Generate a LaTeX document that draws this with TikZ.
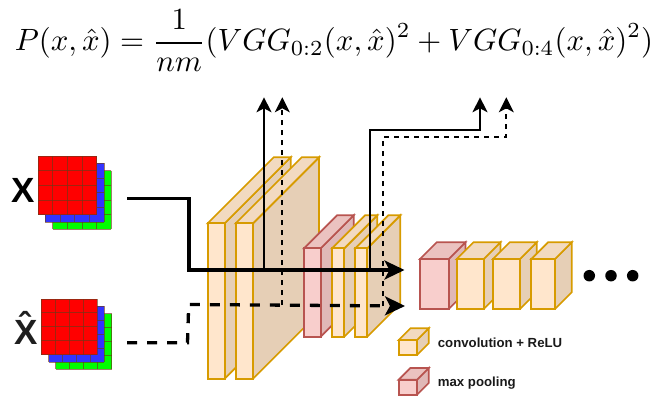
\documentclass[tikz,border=0pt]{standalone}
\usepackage{fontspec}
\usepackage{tikz}
\usetikzlibrary{arrows.meta}
\newfontfamily\labelfont{Liberation Sans}
\definecolor{convline}{HTML}{D79B00}
\definecolor{convfront}{HTML}{FFE6CC}
\definecolor{convtop}{HTML}{F2DAC0}
\definecolor{convside}{HTML}{E6CFB6}
\definecolor{poolline}{HTML}{B85450}
\definecolor{poolfront}{HTML}{F8CECC}
\definecolor{pooltop}{HTML}{EBC2C0}
\definecolor{poolside}{HTML}{E0B8B7}
\definecolor{chanblue}{HTML}{3333FF}
\definecolor{changreen}{HTML}{00FF00}
\definecolor{chanred}{HTML}{FF0000}
\definecolor{gridbrown}{HTML}{6B3A1A}

% kind, left, top, width, height, depth
\newcommand{\cuboid}[6]{
  \fill[#1side] (#2+#4,#3) -- ++(#6,-#6) -- ++(0,#5) -- ++(-#6,#6) -- cycle;
  \draw[draw=#1line, line width=1.7pt, line join=miter]
    (#2+#4,#3) -- ++(#6,-#6) -- ++(0,#5) -- ++(-#6,#6);
  \draw[draw=#1line, fill=#1top, line width=1.7pt]
    (#2,#3) -- ++(#6,-#6) -- ++(#4,0) -- ++(-#6,#6) -- cycle;
  \draw[draw=#1line, fill=#1front, line width=1.7pt] (#2,#3) rectangle ++(#4,#5);
}
% left, top, size of the red layer
\newcommand{\imagestack}[3]{
  \foreach \off/\chan in {14.6/changreen, 7.3/chanblue, 0/chanred}{
    \fill[\chan] (#1+\off,#2+\off) rectangle ++(#3,#3);
    \foreach \gi in {0,...,4}{
      \draw[gridrule] (#1+\off+\gi*#3/4,#2+\off) -- ++(0,#3);
      \draw[gridrule] (#1+\off,#2+\off+\gi*#3/4) -- ++(#3,0);
    }
  }
}

\begin{document}
\begin{tikzpicture}[
  x=1pt, y=-1pt,
  gridrule/.style={draw=gridbrown, opacity=0.65, line width=0.9pt},
  mainpath/.style={line width=3.3pt, -{Stealth[length=20pt, width=19pt, inset=5pt]}},
  mainhat/.style={mainpath, dash pattern=on 10pt off 10pt},
  tappath/.style={line width=1.9pt, -{Stealth[length=15pt, width=15pt, inset=4pt]}},
  taphat/.style={tappath, dash pattern=on 5pt off 5pt},
  imglbl/.style={font=\labelfont\bfseries\fontsize{35}{35}\selectfont, inner sep=0},
  lgd/.style={anchor=west, font=\labelfont\bfseries\fontsize{13.2}{15}\selectfont,
              text=black!90, inner sep=0},
  dot/.style={circle, fill=black, minimum size=11.5pt, inner sep=0}
]
\useasboundingbox (0,0) rectangle (654,396);

% ══ formula ════════════════════════════════════════════════════════════════
\node[scale=3.08, inner sep=0, anchor=base] (formula) at (334,50.7)
  {$\displaystyle P(x,\hat{x})=\frac{1}{nm}(VGG_{0:2}(x,\hat{x})^2+VGG_{0:4}(x,\hat{x})^2)$};

% ══ inputs ═════════════════════════════════════════════════════════════════
\imagestack{38}{156}{58.7}
\imagestack{41.3}{299}{55.7}
\node[imglbl] (inputx) at (22.8,190) {X};
\node[imglbl, text=black!88, anchor=base] (inputhat) at (26,344) {\^{X}};

% ══ first block ════════════════════════════════════════════════════════════
\cuboid{conv}{207.7}{223.3}{17}{155.4}{66}
\cuboid{conv}{235.7}{223.3}{17.3}{155.4}{66}
\cuboid{pool}{304}{248.3}{16.7}{88.4}{33}
\cuboid{conv}{332}{248.3}{12.3}{88.4}{33}
\cuboid{conv}{355.3}{248.3}{12}{88.4}{33}

% ══ second block ═══════════════════════════════════════════════════════════
\cuboid{pool}{420}{259}{28.7}{50}{16.7}
\cuboid{conv}{456.7}{259}{27}{50}{16.7}
\cuboid{conv}{493}{259}{27}{50}{16.7}
\cuboid{conv}{531.3}{259}{23.7}{50}{16.7}
\foreach \dx/\dname in {589.3/a, 611/b, 632.7/c}{
  \node[dot] (dot\dname) at (\dx,275.7) {};
}

% ══ connector ends ═════════════════════════════════════════════════════════
\coordinate (xstart) at (127,198.3);
\coordinate (xbend) at (189,198.3);
\coordinate (xdown) at (189,270);
\coordinate (xend) at (404.5,270);
\coordinate (xtapa) at (264,270);
\coordinate (xtapaend) at (264,97.3);
\coordinate (xtapb) at (370.3,270);
\coordinate (xtapbup) at (370.3,130);
\coordinate (xtapbover) at (480,130);
\coordinate (xtapbend) at (480,97.3);
\coordinate (hatstart) at (127,342.7);
\coordinate (hatbend) at (187.5,342.7);
\coordinate (hatup) at (188.7,304.5);
\coordinate (hatend) at (405,306);
\coordinate (hattapa) at (282.3,305);
\coordinate (hattapaend) at (282.3,97.3);
\coordinate (hattapb) at (383.3,306);
\coordinate (hattapbup) at (383.3,136.7);
\coordinate (hattapbover) at (506.3,136.7);
\coordinate (hattapbend) at (506.3,97.3);

% ══ connectors ═════════════════════════════════════════════════════════════
\draw[tappath] (xtapa) -- (xtapaend);
\draw[taphat] (hattapa) -- (hattapaend);
\draw[tappath] (xtapb) -- (xtapbup) -- (xtapbover) -- (xtapbend);
\draw[taphat] (hattapb) -- (hattapbup) -- (hattapbover) -- (hattapbend);
\draw[mainpath] (xstart) -- (xbend) -- (xdown) -- (xend);
\draw[mainhat] (hatstart) -- (hatbend) -- (hatup) -- (hatend);

% ══ key ════════════════════════════════════════════════════════════════════
\cuboid{conv}{398.7}{340}{18.3}{15}{11.7}
\cuboid{pool}{398.7}{379.7}{18.3}{15}{11.7}
\node[lgd] (lgdconv) at (437.7,342.7) {convolution + ReLU};
\node[lgd] (lgdpool) at (437.7,382.7) {max pooling};

\end{tikzpicture}
\end{document}
